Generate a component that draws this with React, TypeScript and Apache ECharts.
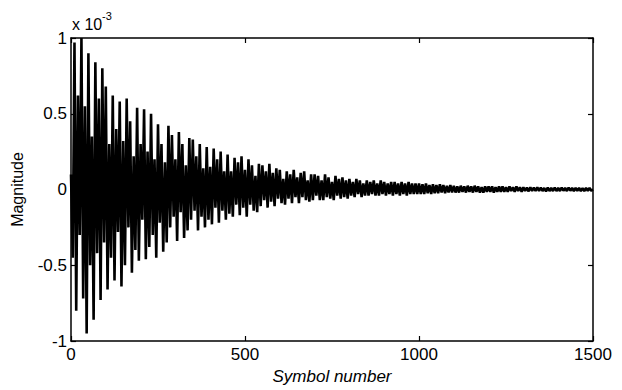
import React, { useEffect, useRef } from "react";
import * as echarts from "echarts";

// Sampled every SYMBOL_STEP symbols; values in units of 1e-3 (axis shows "x 10^-3")
const SYMBOL_STEP = 5;
const magnitude: number[] = [
  // 0-45
  0.1, -0.45, 0.97, -0.8, 0.62, -0.3, 1.0, -0.72, 0.55, -0.95,
  // 50-95
  0.9, -0.5, 0.35, -0.86, 0.84, -0.42, 0.6, -0.73, 0.8, -0.35,
  // 100-145
  0.68, -0.66, 0.3, -0.45, 0.62, -0.6, 0.4, -0.28, 0.58, -0.64,
  // 150-195
  0.32, -0.5, 0.6, -0.25, 0.45, -0.55, 0.22, -0.4, 0.54, -0.47,
  // 200-245
  0.3, -0.2, 0.53, -0.46, 0.25, -0.38, 0.5, -0.3, 0.2, -0.45,
  // 250-295
  0.43, -0.22, 0.3, -0.41, 0.18, -0.35, 0.42, -0.25, 0.36, -0.18,
  // 300-345
  0.2, -0.34, 0.38, -0.15, 0.3, -0.32, 0.16, -0.27, 0.34, -0.2,
  // 350-395
  0.33, -0.14, 0.22, -0.27, 0.3, -0.18, 0.14, -0.25, 0.28, -0.2,
  // 400-445
  0.15, -0.23, 0.27, -0.12, 0.2, -0.22, 0.25, -0.14, 0.12, -0.2,
  // 450-495
  0.23, -0.16, 0.12, -0.18, 0.21, -0.1, 0.18, -0.17, 0.22, -0.12,
  // 500-545
  0.13, -0.18, 0.2, -0.1, 0.16, -0.14, 0.09, -0.15, 0.17, -0.11,
  // 550-595
  0.16, -0.07, 0.12, -0.12, 0.17, -0.08, 0.11, -0.11, 0.14, -0.06,
  // 600-645
  0.13, -0.09, 0.07, -0.1, 0.12, -0.06, 0.1, -0.09, 0.13, -0.05,
  // 650-695
  0.08, -0.09, 0.11, -0.05, 0.12, -0.07, 0.06, -0.08, 0.1, -0.07,
  // 700-745
  0.1, -0.04, 0.09, -0.07, 0.06, -0.07, 0.1, -0.05, 0.08, -0.06,
  // 750-795
  0.05, -0.07, 0.09, -0.04, 0.07, -0.06, 0.08, -0.05, 0.06, -0.06,
  // 800-845
  0.07, -0.04, 0.05, -0.05, 0.07, -0.03, 0.06, -0.05, 0.04, -0.04,
  // 850-895
  0.06, -0.04, 0.05, -0.03, 0.06, -0.04, 0.04, -0.04, 0.06, -0.03,
  // 900-945
  0.05, -0.04, 0.04, -0.03, 0.05, -0.04, 0.05, -0.03, 0.04, -0.04,
  // 950-995
  0.05, -0.03, 0.04, -0.04, 0.05, -0.03, 0.04, -0.03, 0.04, -0.03,
  // 1000-1045
  0.04, -0.03, 0.035, -0.03, 0.04, -0.025, 0.03, -0.03, 0.035, -0.025,
  // 1050-1095
  0.03, -0.025, 0.035, -0.02, 0.03, -0.025, 0.025, -0.02, 0.03, -0.02,
  // 1100-1145
  0.025, -0.02, 0.02, -0.02, 0.025, -0.015, 0.02, -0.02, 0.025, -0.015,
  // 1150-1195
  0.02, -0.02, 0.025, -0.015, 0.02, -0.02, 0.015, -0.02, 0.02, -0.015,
  // 1200-1245
  0.02, -0.015, 0.02, -0.02, 0.015, -0.015, 0.02, -0.015, 0.02, -0.015,
  // 1250-1295
  0.015, -0.015, 0.02, -0.01, 0.015, -0.015, 0.02, -0.01, 0.015, -0.015,
  // 1300-1345
  0.015, -0.01, 0.012, -0.012, 0.015, -0.01, 0.012, -0.01, 0.015, -0.01,
  // 1350-1395
  0.012, -0.01, 0.01, -0.012, 0.012, -0.01, 0.01, -0.01, 0.012, -0.01,
  // 1400-1445
  0.01, -0.01, 0.012, -0.008, 0.01, -0.01, 0.012, -0.008, 0.01, -0.01,
  // 1450-1495
  0.01, -0.008, 0.01, -0.01, 0.008, -0.01, 0.01, -0.008, 0.01, -0.008,
  // 1500
  0.0,
];

const xMin = 0;
const xMax = 1500;
const xInterval = 500;
const yMin = -1;
const yMax = 1;
const yInterval = 0.5;
const xTitle = "Symbol number";
const yTitle = "Magnitude";

const FONT = "'Liberation Sans', Arial, sans-serif";

export default function App() {
  const ref = useRef<HTMLDivElement>(null);

  useEffect(() => {
    if (!ref.current) return;
    const chart = echarts.init(ref.current, undefined, { renderer: "svg" });
    const data = magnitude.map((v, i) => [i * SYMBOL_STEP, v]);
    const axisLine = { show: true, onZero: false, lineStyle: { color: "#000", width: 1.5 } };
    const tick = { show: true, inside: true, length: 5, lineStyle: { color: "#000", width: 1.2 } };
    chart.setOption({
      animation: false,
      backgroundColor: "#fff",
      grid: { left: 71, right: 29, top: 38, bottom: 48, containLabel: false },
      xAxis: [
        {
          type: "value",
          position: "bottom",
          min: xMin,
          max: xMax,
          interval: xInterval,
          axisLine,
          axisTick: tick,
          splitLine: { show: false },
          axisLabel: {
            show: true,
            color: "#000",
            fontFamily: FONT,
            fontSize: 17,
            margin: 5,
            formatter: (v: number) => String(v),
          },
          name: xTitle,
          nameLocation: "middle",
          nameGap: 27,
          nameTextStyle: { color: "#000", fontFamily: FONT, fontSize: 17, fontStyle: "italic" },
        },
        {
          type: "value",
          position: "top",
          min: xMin,
          max: xMax,
          interval: xInterval,
          axisLine,
          axisTick: tick,
          splitLine: { show: false },
          axisLabel: { show: false },
        },
      ],
      yAxis: [
        {
          type: "value",
          position: "left",
          min: yMin,
          max: yMax,
          interval: yInterval,
          axisLine,
          axisTick: tick,
          splitLine: { show: false },
          axisLabel: {
            show: true,
            color: "#000",
            fontFamily: FONT,
            fontSize: 17,
            margin: 4,
            formatter: (v: number) => String(v),
          },
          name: yTitle,
          nameLocation: "middle",
          nameGap: 46,
          nameTextStyle: { color: "#000", fontFamily: FONT, fontSize: 16 },
        },
        {
          type: "value",
          position: "right",
          min: yMin,
          max: yMax,
          interval: yInterval,
          axisLine,
          axisTick: tick,
          splitLine: { show: false },
          axisLabel: { show: false },
        },
      ],
      graphic: [
        {
          type: "text",
          left: 72,
          top: 16,
          style: { text: "x 10", fill: "#000", font: `16px ${FONT}` },
        },
        {
          type: "text",
          left: 102,
          top: 10,
          style: { text: "-3", fill: "#000", font: `11px ${FONT}` },
        },
      ],
      series: [
        {
          type: "line",
          data,
          showSymbol: false,
          lineStyle: { color: "#000", width: 2.6 },
          xAxisIndex: 0,
          yAxisIndex: 0,
        },
      ],
    });
    return () => chart.dispose();
  }, []);

  return (
    <div
      ref={ref}
      style={{ position: "fixed", left: 0, top: 0, width: 622, height: 390, background: "#fff" }}
    />
  );
}
